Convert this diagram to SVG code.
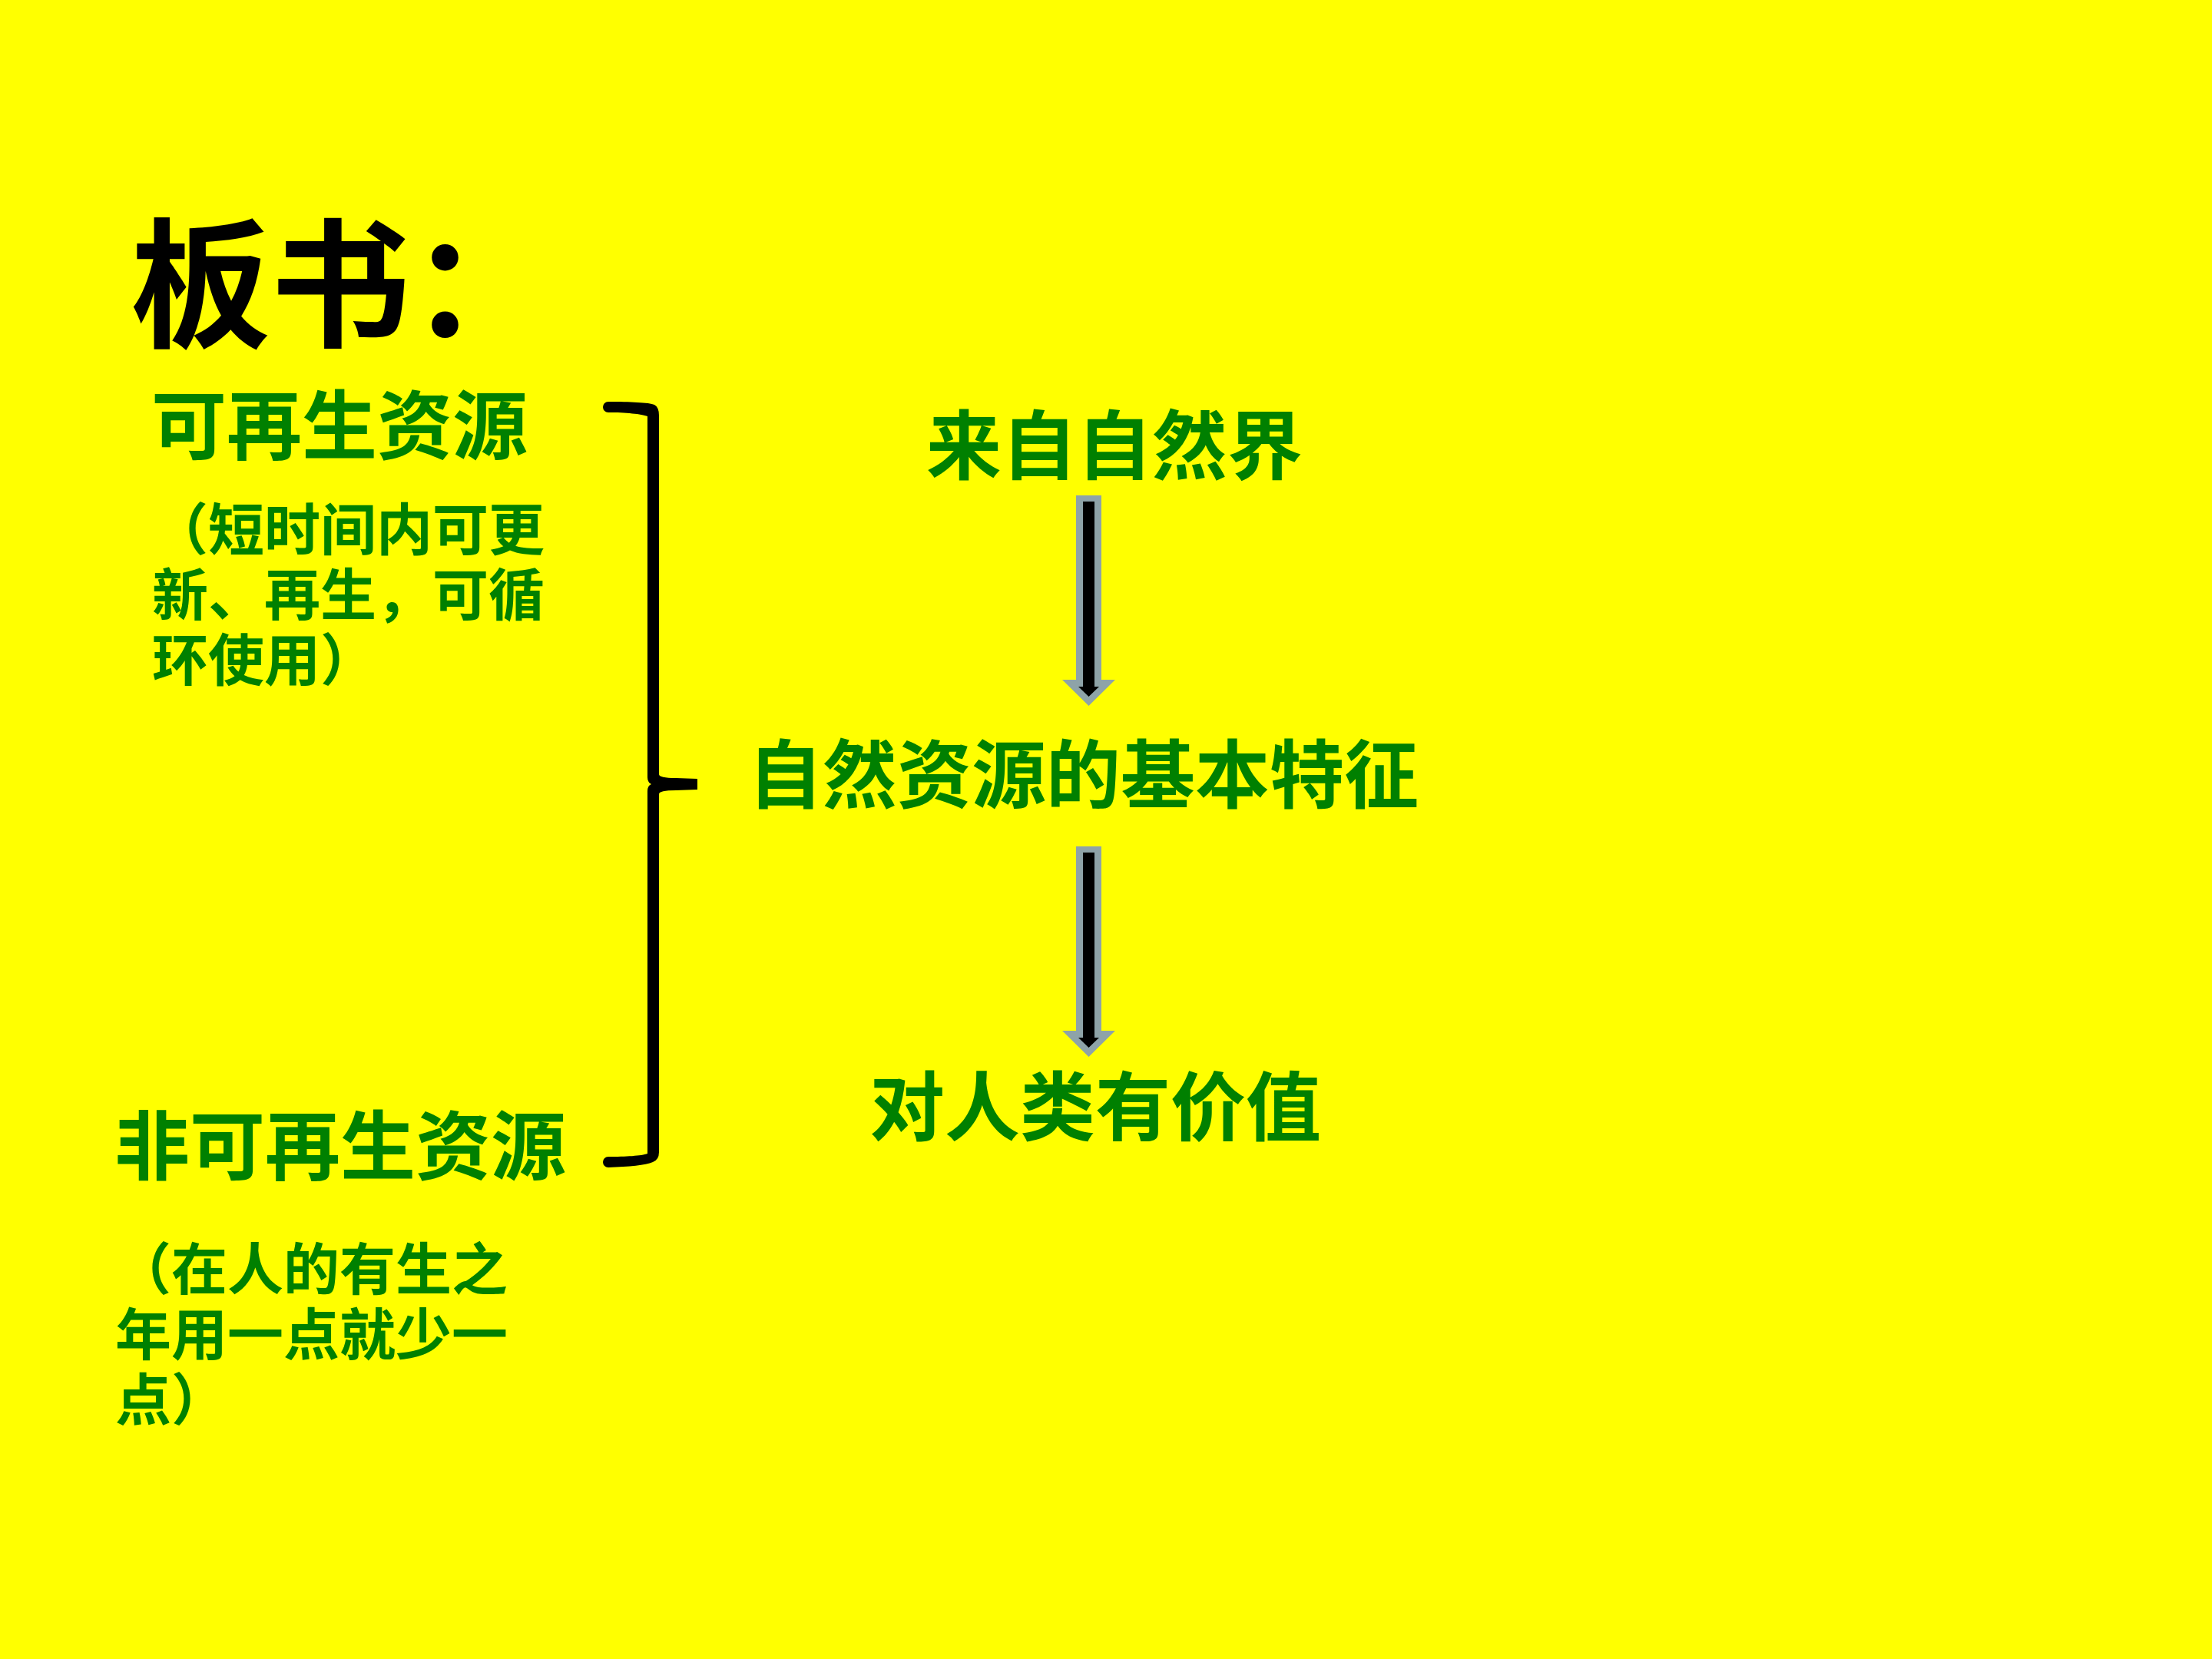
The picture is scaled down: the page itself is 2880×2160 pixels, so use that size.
<svg xmlns="http://www.w3.org/2000/svg" xmlns:xlink="http://www.w3.org/1999/xlink" width="2880" height="2160" viewBox="0 0 2880 2160">
<style>
  text { font-family: "Noto Sans CJK SC", "Noto Sans CJK TC", sans-serif; }
  .title { font-size: 182px; font-weight: 700; fill: #000000; }
  .head { font-size: 98px; font-weight: 700; fill: #008000; }
  .sub { font-size: 73px; font-weight: 700; fill: #008000; }
  .arrow-outer { fill: #8EA3A8; }
  .arrow-inner { fill: #000000; }
  .brace { fill: #000000; }
</style>
<defs>
  <g id="downArrow">
    <polygon class="arrow-outer" points="1401,645 1434,645 1434,885 1452,885 1417.5,919 1383,885 1401,885"/>
    <polygon class="arrow-inner" points="1410,653 1425,653 1425,894 1431,894 1417.5,907 1404,894 1410,894"/>
  </g>
</defs>
<rect x="0" y="0" width="2880" height="2160" fill="#FFFF00"/>

<g id="title">
  <text class="title" x="170" y="438">板书：</text>
</g>

<g id="renewable">
  <text class="head" x="197" y="590">可再生资源</text>
  <text class="sub" x="198" y="716">（短时间内可更</text>
  <text class="sub" x="198" y="801">新、再生，可循</text>
  <text class="sub" x="198" y="886">环使用）</text>
</g>

<g id="nonrenewable">
  <text class="head" x="149" y="1528">非可再生资源</text>
  <text class="sub" x="150" y="1679">（在人的有生之</text>
  <text class="sub" x="150" y="1764">年用一点就少一</text>
  <text class="sub" x="150" y="1849">点）</text>
</g>

<g id="brace">
  <path class="brace" d="M 792 523 C 820 523 845 524 852 527 Q 858 530 858 541 L 858 1008 Q 858 1013 880 1013 L 908 1014 L 908 1028 L 880 1029 Q 858 1029 858 1034 L 858 1500 Q 858 1510 850 1513 C 840 1517 820 1519 792 1520 A 7 7 0 0 1 792 1506 C 815 1506 835 1505 843 1502 L 843 1030 Q 843 1023 848 1021 Q 843 1019 843 1012 L 843 542 C 835 539 815 537 792 537 A 7 7 0 0 1 792 523 Z"/>
</g>

<g id="from-nature">
  <text class="head" x="1206" y="616">来自自然界</text>
</g>

<g id="basic-features">
  <text class="head" x="974" y="1044" style="font-size:97px">自然资源的基本特征</text>
</g>

<g id="valuable">
  <text class="head" x="1132" y="1477">对人类有价值</text>
</g>

<g id="connectors">
  <use xlink:href="#downArrow"/>
  <use xlink:href="#downArrow" transform="translate(0,457)"/>
</g>
</svg>
